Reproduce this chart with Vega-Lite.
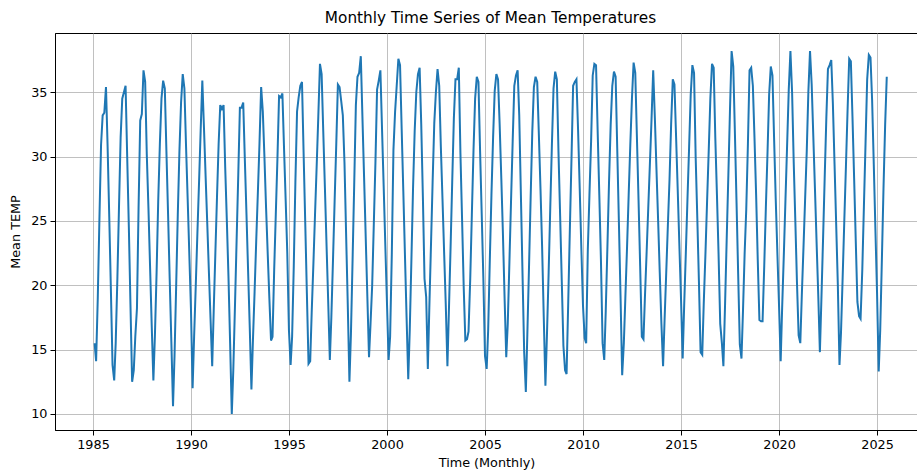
{
"$schema": "https://vega.github.io/schema/vega-lite/v6.json",
"width": 863,
"height": 397,
"autosize": {"type": "none"},
"padding": {"left": 55, "top": 33, "right": 0, "bottom": 43},
"background": "white",
"title": {"text": "Monthly Time Series of Mean Temperatures", "font": "DejaVu Sans", "fontSize": 15.3, "fontWeight": "normal", "color": "black", "offset": 7, "dx": 4},
"config": {
  "view": {"stroke": "black", "strokeWidth": 1},
  "axis": {"labelFont": "DejaVu Sans", "titleFont": "DejaVu Sans", "labelFontSize": 12.8, "titleFontSize": 12.8, "titleFontWeight": "normal", "labelColor": "black", "titleColor": "black", "domainColor": "black", "tickColor": "black", "tickSize": 5, "gridColor": "#b0b0b0", "gridWidth": 0.8, "domainWidth": 1}
},
"data": {"values": [
{"date":"1985-01-31","temp":15.5},{"date":"1985-02-28","temp":14.1},{"date":"1985-03-31","temp":19.0},{"date":"1985-04-30","temp":25.0},{"date":"1985-05-31","temp":30.9},{"date":"1985-06-30","temp":33.2},{"date":"1985-07-31","temp":33.4},{"date":"1985-08-31","temp":35.4},{"date":"1985-09-30","temp":30.8},{"date":"1985-10-31","temp":25.3},{"date":"1985-11-30","temp":19.7},{"date":"1985-12-31","temp":13.8},
{"date":"1986-01-31","temp":12.6},{"date":"1986-02-28","temp":15.5},{"date":"1986-03-31","temp":20.5},{"date":"1986-04-30","temp":26.0},{"date":"1986-05-31","temp":31.5},{"date":"1986-06-30","temp":34.5},{"date":"1986-07-31","temp":35.0},{"date":"1986-08-31","temp":35.5},{"date":"1986-09-30","temp":30.0},{"date":"1986-10-31","temp":24.5},{"date":"1986-11-30","temp":18.5},{"date":"1986-12-31","temp":12.5},
{"date":"1987-01-31","temp":13.4},{"date":"1987-02-28","temp":16.0},{"date":"1987-03-31","temp":18.2},{"date":"1987-04-30","temp":26.0},{"date":"1987-05-31","temp":32.8},{"date":"1987-06-30","temp":33.3},{"date":"1987-07-31","temp":36.7},{"date":"1987-08-31","temp":35.8},{"date":"1987-09-30","temp":30.2},{"date":"1987-10-31","temp":26.0},{"date":"1987-11-30","temp":21.5},{"date":"1987-12-31","temp":16.9},
{"date":"1988-01-31","temp":12.6},{"date":"1988-02-28","temp":16.0},{"date":"1988-03-31","temp":21.0},{"date":"1988-04-30","temp":26.5},{"date":"1988-05-31","temp":31.0},{"date":"1988-06-30","temp":34.5},{"date":"1988-07-31","temp":35.9},{"date":"1988-08-31","temp":35.3},{"date":"1988-09-30","temp":30.4},{"date":"1988-10-31","temp":25.5},{"date":"1988-11-30","temp":20.5},{"date":"1988-12-31","temp":15.6},
{"date":"1989-01-31","temp":10.6},{"date":"1989-02-28","temp":14.5},{"date":"1989-03-31","temp":20.0},{"date":"1989-04-30","temp":25.5},{"date":"1989-05-31","temp":30.5},{"date":"1989-06-30","temp":34.2},{"date":"1989-07-31","temp":36.4},{"date":"1989-08-31","temp":35.3},{"date":"1989-09-30","temp":30.9},{"date":"1989-10-31","temp":26.7},{"date":"1989-11-30","temp":22.5},{"date":"1989-12-31","temp":18.2},
{"date":"1990-01-31","temp":12.0},{"date":"1990-02-28","temp":16.0},{"date":"1990-03-31","temp":20.0},{"date":"1990-04-30","temp":24.0},{"date":"1990-05-31","temp":28.0},{"date":"1990-06-30","temp":32.0},{"date":"1990-07-31","temp":35.9},{"date":"1990-08-31","temp":32.2},{"date":"1990-09-30","temp":28.5},{"date":"1990-10-31","temp":24.8},{"date":"1990-11-30","temp":21.1},{"date":"1990-12-31","temp":17.4},
{"date":"1991-01-31","temp":13.7},{"date":"1991-02-28","temp":18.0},{"date":"1991-03-31","temp":22.5},{"date":"1991-04-30","temp":26.8},{"date":"1991-05-31","temp":31.0},{"date":"1991-06-30","temp":34.0},{"date":"1991-07-31","temp":33.7},{"date":"1991-08-31","temp":34.0},{"date":"1991-09-30","temp":29.2},{"date":"1991-10-31","temp":25.0},{"date":"1991-11-30","temp":20.7},{"date":"1991-12-31","temp":15.5},
{"date":"1992-01-31","temp":10.0},{"date":"1992-02-28","temp":13.4},{"date":"1992-03-31","temp":18.5},{"date":"1992-04-30","temp":23.5},{"date":"1992-05-31","temp":28.6},{"date":"1992-06-30","temp":33.8},{"date":"1992-07-31","temp":33.8},{"date":"1992-08-31","temp":34.2},{"date":"1992-09-30","temp":29.8},{"date":"1992-10-31","temp":25.5},{"date":"1992-11-30","temp":21.1},{"date":"1992-12-31","temp":16.7},
{"date":"1993-01-31","temp":11.9},{"date":"1993-02-28","temp":15.7},{"date":"1993-03-31","temp":19.5},{"date":"1993-04-30","temp":23.4},{"date":"1993-05-31","temp":27.2},{"date":"1993-06-30","temp":31.0},{"date":"1993-07-31","temp":35.4},{"date":"1993-08-31","temp":33.5},{"date":"1993-09-30","temp":30.0},{"date":"1993-10-31","temp":26.0},{"date":"1993-11-30","temp":22.5},{"date":"1993-12-31","temp":19.0},
{"date":"1994-01-31","temp":15.7},{"date":"1994-02-28","temp":16.0},{"date":"1994-03-31","temp":21.2},{"date":"1994-04-30","temp":25.5},{"date":"1994-05-31","temp":29.9},{"date":"1994-06-30","temp":34.7},{"date":"1994-07-31","temp":34.6},{"date":"1994-08-31","temp":34.9},{"date":"1994-09-30","temp":30.7},{"date":"1994-10-31","temp":26.6},{"date":"1994-11-30","temp":22.5},{"date":"1994-12-31","temp":16.5},
{"date":"1995-01-31","temp":13.8},{"date":"1995-02-28","temp":16.0},{"date":"1995-03-31","temp":21.5},{"date":"1995-04-30","temp":28.0},{"date":"1995-05-31","temp":33.5},{"date":"1995-06-30","temp":34.6},{"date":"1995-07-31","temp":35.5},{"date":"1995-08-31","temp":35.8},{"date":"1995-09-30","temp":30.3},{"date":"1995-10-31","temp":24.8},{"date":"1995-11-30","temp":19.4},{"date":"1995-12-31","temp":13.9},
{"date":"1996-01-31","temp":14.1},{"date":"1996-02-28","temp":17.9},{"date":"1996-03-31","temp":21.7},{"date":"1996-04-30","temp":25.5},{"date":"1996-05-31","temp":29.3},{"date":"1996-06-30","temp":33.1},{"date":"1996-07-31","temp":37.2},{"date":"1996-08-31","temp":36.4},{"date":"1996-09-30","temp":32.0},{"date":"1996-10-31","temp":27.6},{"date":"1996-11-30","temp":23.2},{"date":"1996-12-31","temp":18.8},
{"date":"1997-01-31","temp":14.2},{"date":"1997-02-28","temp":17.5},{"date":"1997-03-31","temp":22.0},{"date":"1997-04-30","temp":26.5},{"date":"1997-05-31","temp":31.0},{"date":"1997-06-30","temp":35.6},{"date":"1997-07-31","temp":35.4},{"date":"1997-08-31","temp":34.3},{"date":"1997-09-30","temp":33.2},{"date":"1997-10-31","temp":29.5},{"date":"1997-11-30","temp":24.0},{"date":"1997-12-31","temp":18.5},
{"date":"1998-01-31","temp":12.5},{"date":"1998-02-28","temp":16.2},{"date":"1998-03-31","temp":22.0},{"date":"1998-04-30","temp":27.8},{"date":"1998-05-31","temp":34.0},{"date":"1998-06-30","temp":36.2},{"date":"1998-07-31","temp":36.5},{"date":"1998-08-31","temp":37.8},{"date":"1998-09-30","temp":33.1},{"date":"1998-10-31","temp":28.4},{"date":"1998-11-30","temp":23.8},{"date":"1998-12-31","temp":19.1},
{"date":"1999-01-31","temp":14.4},{"date":"1999-02-28","temp":17.0},{"date":"1999-03-31","temp":20.0},{"date":"1999-04-30","temp":24.7},{"date":"1999-05-31","temp":29.6},{"date":"1999-06-30","temp":35.2},{"date":"1999-07-31","temp":35.9},{"date":"1999-08-31","temp":36.7},{"date":"1999-09-30","temp":32.2},{"date":"1999-10-31","temp":27.7},{"date":"1999-11-30","temp":23.2},{"date":"1999-12-31","temp":18.7},
{"date":"2000-01-31","temp":14.2},{"date":"2000-02-28","temp":16.0},{"date":"2000-03-31","temp":22.5},{"date":"2000-04-30","temp":30.5},{"date":"2000-05-31","temp":33.5},{"date":"2000-06-30","temp":35.5},{"date":"2000-07-31","temp":37.6},{"date":"2000-08-31","temp":37.1},{"date":"2000-09-30","temp":32.2},{"date":"2000-10-31","temp":27.3},{"date":"2000-11-30","temp":22.4},{"date":"2000-12-31","temp":17.5},
{"date":"2001-01-31","temp":12.7},{"date":"2001-02-28","temp":16.5},{"date":"2001-03-31","temp":22.0},{"date":"2001-04-30","temp":27.5},{"date":"2001-05-31","temp":32.0},{"date":"2001-06-30","temp":35.0},{"date":"2001-07-31","temp":36.4},{"date":"2001-08-31","temp":36.9},{"date":"2001-09-30","temp":32.5},{"date":"2001-10-31","temp":26.8},{"date":"2001-11-30","temp":20.5},{"date":"2001-12-31","temp":19.1},
{"date":"2002-01-31","temp":13.5},{"date":"2002-02-28","temp":18.3},{"date":"2002-03-31","temp":23.2},{"date":"2002-04-30","temp":28.0},{"date":"2002-05-31","temp":32.6},{"date":"2002-06-30","temp":35.0},{"date":"2002-07-31","temp":36.8},{"date":"2002-08-31","temp":35.5},{"date":"2002-09-30","temp":30.8},{"date":"2002-10-31","temp":26.7},{"date":"2002-11-30","temp":22.6},{"date":"2002-12-31","temp":18.5},
{"date":"2003-01-31","temp":13.7},{"date":"2003-02-28","temp":18.1},{"date":"2003-03-31","temp":23.0},{"date":"2003-04-30","temp":28.0},{"date":"2003-05-31","temp":33.0},{"date":"2003-06-30","temp":36.0},{"date":"2003-07-31","temp":36.0},{"date":"2003-08-31","temp":36.9},{"date":"2003-09-30","temp":30.3},{"date":"2003-10-31","temp":25.1},{"date":"2003-11-30","temp":19.9},{"date":"2003-12-31","temp":15.7},
{"date":"2004-01-31","temp":15.8},{"date":"2004-02-28","temp":16.4},{"date":"2004-03-31","temp":20.5},{"date":"2004-04-30","temp":25.5},{"date":"2004-05-31","temp":30.5},{"date":"2004-06-30","temp":34.5},{"date":"2004-07-31","temp":36.2},{"date":"2004-08-31","temp":35.8},{"date":"2004-09-30","temp":30.5},{"date":"2004-10-31","temp":25.5},{"date":"2004-11-30","temp":20.6},{"date":"2004-12-31","temp":14.5},
{"date":"2005-01-31","temp":13.5},{"date":"2005-02-28","temp":16.5},{"date":"2005-03-31","temp":22.0},{"date":"2005-04-30","temp":27.0},{"date":"2005-05-31","temp":31.5},{"date":"2005-06-30","temp":35.1},{"date":"2005-07-31","temp":36.4},{"date":"2005-08-31","temp":36.0},{"date":"2005-09-30","temp":32.5},{"date":"2005-10-31","temp":28.3},{"date":"2005-11-30","temp":24.0},{"date":"2005-12-31","temp":19.0},
{"date":"2006-01-31","temp":14.4},{"date":"2006-02-28","temp":17.0},{"date":"2006-03-31","temp":21.8},{"date":"2006-04-30","temp":26.5},{"date":"2006-05-31","temp":31.2},{"date":"2006-06-30","temp":35.5},{"date":"2006-07-31","temp":36.3},{"date":"2006-08-31","temp":36.7},{"date":"2006-09-30","temp":33.2},{"date":"2006-10-31","temp":27.0},{"date":"2006-11-30","temp":20.9},{"date":"2006-12-31","temp":14.8},
{"date":"2007-01-31","temp":11.7},{"date":"2007-02-28","temp":16.2},{"date":"2007-03-31","temp":21.4},{"date":"2007-04-30","temp":26.7},{"date":"2007-05-31","temp":31.9},{"date":"2007-06-30","temp":35.4},{"date":"2007-07-31","temp":36.2},{"date":"2007-08-31","temp":35.8},{"date":"2007-09-30","temp":31.8},{"date":"2007-10-31","temp":27.5},{"date":"2007-11-30","temp":23.0},{"date":"2007-12-31","temp":17.5},
{"date":"2008-01-31","temp":12.2},{"date":"2008-02-28","temp":16.1},{"date":"2008-03-31","temp":21.0},{"date":"2008-04-30","temp":26.0},{"date":"2008-05-31","temp":31.0},{"date":"2008-06-30","temp":35.3},{"date":"2008-07-31","temp":36.6},{"date":"2008-08-31","temp":36.0},{"date":"2008-09-30","temp":30.4},{"date":"2008-10-31","temp":25.4},{"date":"2008-11-30","temp":20.4},{"date":"2008-12-31","temp":15.3},
{"date":"2009-01-31","temp":13.4},{"date":"2009-02-28","temp":13.1},{"date":"2009-03-31","temp":18.7},{"date":"2009-04-30","temp":24.3},{"date":"2009-05-31","temp":29.9},{"date":"2009-06-30","temp":35.5},{"date":"2009-07-31","temp":35.8},{"date":"2009-08-31","temp":36.0},{"date":"2009-09-30","temp":32.1},{"date":"2009-10-31","temp":27.5},{"date":"2009-11-30","temp":22.9},{"date":"2009-12-31","temp":18.4},
{"date":"2010-01-31","temp":15.9},{"date":"2010-02-28","temp":15.5},{"date":"2010-03-31","temp":22.8},{"date":"2010-04-30","temp":27.0},{"date":"2010-05-31","temp":31.2},{"date":"2010-06-30","temp":36.3},{"date":"2010-07-31","temp":37.2},{"date":"2010-08-31","temp":37.1},{"date":"2010-09-30","temp":32.0},{"date":"2010-10-31","temp":27.0},{"date":"2010-11-30","temp":22.0},{"date":"2010-12-31","temp":15.5},
{"date":"2011-01-31","temp":14.2},{"date":"2011-02-28","temp":18.0},{"date":"2011-03-31","temp":23.0},{"date":"2011-04-30","temp":28.0},{"date":"2011-05-31","temp":32.5},{"date":"2011-06-30","temp":35.5},{"date":"2011-07-31","temp":36.6},{"date":"2011-08-31","temp":36.2},{"date":"2011-09-30","temp":30.6},{"date":"2011-10-31","temp":24.9},{"date":"2011-11-30","temp":19.2},{"date":"2011-12-31","temp":13.0},
{"date":"2012-01-31","temp":15.5},{"date":"2012-02-28","temp":19.0},{"date":"2012-03-31","temp":23.0},{"date":"2012-04-30","temp":27.0},{"date":"2012-05-31","temp":31.0},{"date":"2012-06-30","temp":34.5},{"date":"2012-07-31","temp":37.3},{"date":"2012-08-31","temp":36.5},{"date":"2012-09-30","temp":31.6},{"date":"2012-10-31","temp":26.6},{"date":"2012-11-30","temp":21.5},{"date":"2012-12-31","temp":16.0},
{"date":"2013-01-31","temp":15.8},{"date":"2013-02-28","temp":19.2},{"date":"2013-03-31","temp":22.6},{"date":"2013-04-30","temp":26.0},{"date":"2013-05-31","temp":29.5},{"date":"2013-06-30","temp":32.9},{"date":"2013-07-31","temp":36.7},{"date":"2013-08-31","temp":33.0},{"date":"2013-09-30","temp":29.0},{"date":"2013-10-31","temp":25.0},{"date":"2013-11-30","temp":21.0},{"date":"2013-12-31","temp":17.0},
{"date":"2014-01-31","temp":13.7},{"date":"2014-02-28","temp":17.3},{"date":"2014-03-31","temp":21.0},{"date":"2014-04-30","temp":24.6},{"date":"2014-05-31","temp":28.2},{"date":"2014-06-30","temp":32.5},{"date":"2014-07-31","temp":36.0},{"date":"2014-08-31","temp":35.6},{"date":"2014-09-30","temp":31.6},{"date":"2014-10-31","temp":27.4},{"date":"2014-11-30","temp":23.2},{"date":"2014-12-31","temp":19.0},
{"date":"2015-01-31","temp":14.3},{"date":"2015-02-28","temp":18.4},{"date":"2015-03-31","temp":22.5},{"date":"2015-04-30","temp":26.6},{"date":"2015-05-31","temp":30.7},{"date":"2015-06-30","temp":34.8},{"date":"2015-07-31","temp":37.1},{"date":"2015-08-31","temp":36.5},{"date":"2015-09-30","temp":30.0},{"date":"2015-10-31","temp":25.2},{"date":"2015-11-30","temp":20.3},{"date":"2015-12-31","temp":14.8},
{"date":"2016-01-31","temp":14.6},{"date":"2016-02-28","temp":18.6},{"date":"2016-03-31","temp":22.5},{"date":"2016-04-30","temp":26.5},{"date":"2016-05-31","temp":30.5},{"date":"2016-06-30","temp":34.5},{"date":"2016-07-31","temp":37.2},{"date":"2016-08-31","temp":36.9},{"date":"2016-09-30","temp":31.5},{"date":"2016-10-31","temp":27.0},{"date":"2016-11-30","temp":22.4},{"date":"2016-12-31","temp":17.0},
{"date":"2017-01-31","temp":15.5},{"date":"2017-02-28","temp":13.7},{"date":"2017-03-31","temp":18.5},{"date":"2017-04-30","temp":23.5},{"date":"2017-05-31","temp":28.5},{"date":"2017-06-30","temp":33.5},{"date":"2017-07-31","temp":38.2},{"date":"2017-08-31","temp":37.0},{"date":"2017-09-30","temp":31.9},{"date":"2017-10-31","temp":26.4},{"date":"2017-11-30","temp":20.9},{"date":"2017-12-31","temp":15.4},
{"date":"2018-01-31","temp":14.3},{"date":"2018-02-28","temp":18.0},{"date":"2018-03-31","temp":22.5},{"date":"2018-04-30","temp":25.9},{"date":"2018-05-31","temp":31.0},{"date":"2018-06-30","temp":36.7},{"date":"2018-07-31","temp":36.9},{"date":"2018-08-31","temp":35.5},{"date":"2018-09-30","temp":31.5},{"date":"2018-10-31","temp":27.0},{"date":"2018-11-30","temp":22.0},{"date":"2018-12-31","temp":17.3},
{"date":"2019-01-31","temp":17.2},{"date":"2019-02-28","temp":17.2},{"date":"2019-03-31","temp":21.5},{"date":"2019-04-30","temp":26.0},{"date":"2019-05-31","temp":30.3},{"date":"2019-06-30","temp":34.8},{"date":"2019-07-31","temp":37.0},{"date":"2019-08-31","temp":36.3},{"date":"2019-09-30","temp":31.5},{"date":"2019-10-31","temp":26.7},{"date":"2019-11-30","temp":22.6},{"date":"2019-12-31","temp":18.5},
{"date":"2020-01-31","temp":14.1},{"date":"2020-02-28","temp":18.3},{"date":"2020-03-31","temp":22.5},{"date":"2020-04-30","temp":26.7},{"date":"2020-05-31","temp":31.0},{"date":"2020-06-30","temp":35.2},{"date":"2020-07-31","temp":38.2},{"date":"2020-08-31","temp":35.0},{"date":"2020-09-30","temp":29.6},{"date":"2020-10-31","temp":24.9},{"date":"2020-11-30","temp":20.2},{"date":"2020-12-31","temp":16.1},
{"date":"2021-01-31","temp":15.5},{"date":"2021-02-28","temp":19.2},{"date":"2021-03-31","temp":22.9},{"date":"2021-04-30","temp":26.6},{"date":"2021-05-31","temp":30.4},{"date":"2021-06-30","temp":35.0},{"date":"2021-07-31","temp":38.2},{"date":"2021-08-31","temp":35.6},{"date":"2021-09-30","temp":31.6},{"date":"2021-10-31","temp":27.5},{"date":"2021-11-30","temp":23.4},{"date":"2021-12-31","temp":19.3},
{"date":"2022-01-31","temp":14.8},{"date":"2022-02-28","temp":18.9},{"date":"2022-03-31","temp":23.6},{"date":"2022-04-30","temp":28.3},{"date":"2022-05-31","temp":33.0},{"date":"2022-06-30","temp":36.8},{"date":"2022-07-31","temp":37.1},{"date":"2022-08-31","temp":37.5},{"date":"2022-09-30","temp":34.1},{"date":"2022-10-31","temp":29.4},{"date":"2022-11-30","temp":24.8},{"date":"2022-12-31","temp":20.1},
{"date":"2023-01-31","temp":13.8},{"date":"2023-02-28","temp":16.3},{"date":"2023-03-31","temp":20.6},{"date":"2023-04-30","temp":24.9},{"date":"2023-05-31","temp":29.2},{"date":"2023-06-30","temp":33.5},{"date":"2023-07-31","temp":37.6},{"date":"2023-08-31","temp":37.4},{"date":"2023-09-30","temp":33.1},{"date":"2023-10-31","temp":28.3},{"date":"2023-11-30","temp":23.5},{"date":"2023-12-31","temp":18.7},
{"date":"2024-01-31","temp":17.6},{"date":"2024-02-28","temp":17.4},{"date":"2024-03-31","temp":21.2},{"date":"2024-04-30","temp":26.1},{"date":"2024-05-31","temp":31.1},{"date":"2024-06-30","temp":36.0},{"date":"2024-07-31","temp":37.9},{"date":"2024-08-31","temp":37.7},{"date":"2024-09-30","temp":34.4},{"date":"2024-10-31","temp":29.4},{"date":"2024-11-30","temp":24.4},{"date":"2024-12-31","temp":19.4},
{"date":"2025-01-31","temp":13.3},{"date":"2025-02-28","temp":16.5},{"date":"2025-03-31","temp":22.0},{"date":"2025-04-30","temp":27.5},{"date":"2025-05-31","temp":32.5},{"date":"2025-06-30","temp":36.2}
]},
"mark": {"type": "line", "color": "#1f77b4", "strokeWidth": 2, "clip": true},
"encoding": {
  "x": {"field": "date", "type": "temporal", "title": "Time (Monthly)",
        "scale": {"type": "utc", "domain": [{"year": 1983, "month": 1, "date": 24, "utc": true}, {"year": 2027, "month": 2, "date": 2, "utc": true}], "nice": false},
        "axis": {"format": "%Y", "tickCount": {"interval": "year", "step": 5}, "labelFlush": false, "labelOverlap": false, "labelPadding": 3, "titlePadding": 6}},
  "y": {"field": "temp", "type": "quantitative", "title": "Mean TEMP",
        "scale": {"domain": [8.75, 39.6], "nice": false, "zero": false},
        "axis": {"values": [10, 15, 20, 25, 30, 35], "labelPadding": 3, "titlePadding": 8}}
}
}
